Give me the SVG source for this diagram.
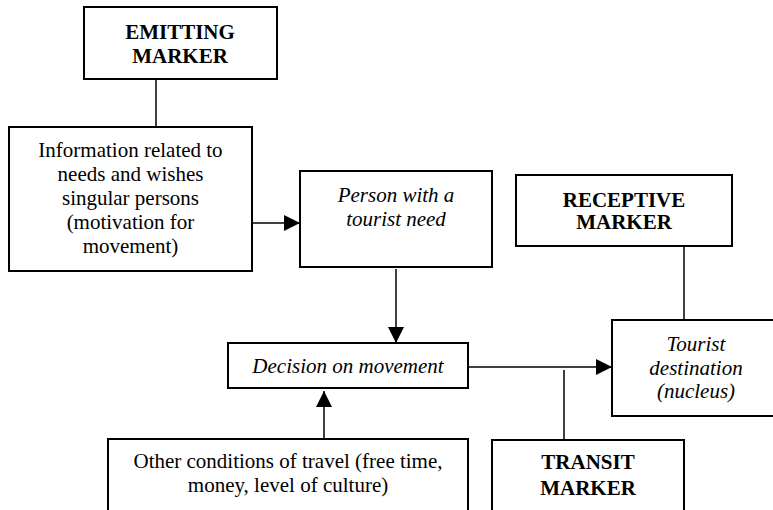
<svg xmlns="http://www.w3.org/2000/svg" width="773" height="510" viewBox="0 0 773 510" font-family="'Liberation Serif', serif">
<style>
.box{fill:#fff;stroke:#000;stroke-width:2}
.t{font-family:'Liberation Serif',serif;font-size:21px;fill:#000;text-anchor:middle}
.b{font-weight:bold}
.i{font-style:italic}
.c{stroke:#000;stroke-width:1.5;fill:none}
</style>
<defs>
<marker id="ah" markerUnits="userSpaceOnUse" markerWidth="16" markerHeight="16" refX="16" refY="8" orient="auto">
<path d="M0,0 L16,8 L0,16 z" fill="#000"/>
</marker>
</defs>
<rect width="773" height="510" fill="#fff"/>
<g id="connectors">
<line class="c" x1="156" y1="79" x2="156" y2="127"/>
<line class="c" x1="252" y1="223" x2="300" y2="223" marker-end="url(#ah)"/>
<line class="c" x1="396" y1="269" x2="396" y2="343" marker-end="url(#ah)"/>
<line class="c" x1="324" y1="439" x2="324" y2="391" marker-end="url(#ah)"/>
<line class="c" x1="468" y1="367" x2="612" y2="367" marker-end="url(#ah)"/>
<line class="c" x1="564" y1="370" x2="564" y2="440"/>
<line class="c" x1="684" y1="246" x2="684" y2="320"/>
</g>
<g id="emitting">
<rect class="box" x="84" y="7" width="193" height="72"/>
<text class="t b" x="180" y="39">EMITTING</text>
<text class="t b" x="180" y="63">MARKER</text>
</g>
<g id="information">
<rect class="box" x="9" y="127" width="243" height="144"/>
<text class="t" x="130.5" y="157">Information related to</text>
<text class="t" x="130.5" y="181">needs and wishes</text>
<text class="t" x="130.5" y="205">singular persons</text>
<text class="t" x="130.5" y="229">(motivation for</text>
<text class="t" x="130.5" y="253">movement)</text>
</g>
<g id="person">
<rect class="box" x="300" y="171" width="192" height="96"/>
<text class="t i" x="396" y="202">Person with a</text>
<text class="t i" x="396" y="226">tourist need</text>
</g>
<g id="receptive">
<rect class="box" x="516" y="175" width="216" height="71"/>
<text class="t b" x="624" y="207">RECEPTIVE</text>
<text class="t b" x="624" y="229">MARKER</text>
</g>
<g id="decision">
<rect class="box" x="228" y="343" width="240" height="45"/>
<text class="t i" x="348" y="373">Decision on movement</text>
</g>
<g id="destination">
<rect class="box" x="612" y="320" width="170" height="96"/>
<text class="t i" x="696" y="351">Tourist</text>
<text class="t i" x="696" y="375">destination</text>
<text class="t i" x="696" y="398">(nucleus)</text>
</g>
<g id="conditions">
<rect class="box" x="108" y="439" width="360" height="90"/>
<text class="t" x="288" y="468">Other conditions of travel (free time,</text>
<text class="t" x="288" y="492">money, level of culture)</text>
</g>
<g id="transit">
<rect class="box" x="492" y="440" width="192" height="90"/>
<text class="t b" x="588" y="469">TRANSIT</text>
<text class="t b" x="588" y="495">MARKER</text>
</g>
</svg>
